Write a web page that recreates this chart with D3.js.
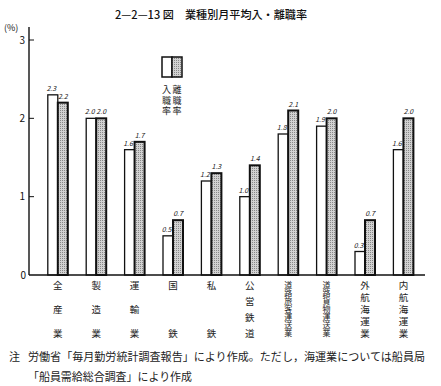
<!DOCTYPE html>
<html><head><meta charset="utf-8">
<script src="https://cdn.jsdelivr.net/npm/d3@7/dist/d3.min.js"></script>
<style>body{margin:0;background:#fff}svg{display:block}</style>
</head><body>
<script>
const categories = ["全産業","製造業","運輸業","国鉄","私鉄","公営鉄道","道路旅客運送業","道路貨物運送業","外航海運業","内航海運業"];
const hireRate = [2.3,2.0,1.6,0.5,1.2,1.0,1.8,1.9,0.3,1.6];
const sepRate  = [2.2,2.0,1.7,0.7,1.3,1.4,2.1,2.0,0.7,2.0];
const yTicks = [0,1,2,3];
const legendLabels = ["入職率","離職率"];
const title = "2—2—13 図　業種別月平均入・離職率";
const note1 = "労働省「毎月勤労統計調査報告」により作成。ただし，海運業については船員局";
const note2 = "「船員需給総合調査」により作成";

const W=441,H=386;
const font = "'Noto Sans CJK JP','Noto Sans',sans-serif";
const svg = d3.select("body").append("svg").attr("width",W).attr("height",H).style("font-family",font);

const defs = svg.append("defs");
const pat = defs.append("pattern").attr("id","dots").attr("width",2).attr("height",2).attr("patternUnits","userSpaceOnUse");
pat.append("rect").attr("width",2).attr("height",2).attr("fill","#d2d2d2");
pat.append("rect").attr("width",1).attr("height",1).attr("fill","#888");

const x = d3.scaleBand().domain(categories).range([38.6,422.6]);
const y = d3.scaleLinear().domain([0,3]).range([275,40]);
const bw = 10;

// title
svg.append("text").attr("x",115).attr("y",19).attr("font-size",11).attr("font-weight",500).attr("textLength",192)
  .attr("lengthAdjust","spacingAndGlyphs").attr("fill","#111").text(title);

// y axis
svg.append("line").attr("x1",29).attr("x2",29).attr("y1",27).attr("y2",y(0)).attr("stroke","#111").attr("stroke-width",1.4);
const yt = svg.append("g");
yTicks.forEach(t=>{
  if(t>0) yt.append("line").attr("x1",29).attr("x2",34).attr("y1",y(t)).attr("y2",y(t)).attr("stroke","#111").attr("stroke-width",1);
  yt.append("text").attr("x",t===0?26:25).attr("y",y(t)+3.5).attr("text-anchor","end").attr("font-size",10).attr("fill","#111").text(t);
});
svg.append("text").attr("x",4).attr("y",31).attr("font-size",9).attr("fill","#111").text("(%)");

// bars
const g = svg.append("g");
const gl = svg.append("g");
categories.forEach((c,i)=>{
  const cx = x(c)+x.bandwidth()/2;
  g.append("rect").attr("x",cx-bw).attr("y",y(hireRate[i])).attr("width",bw).attr("height",y(0)-y(hireRate[i]))
    .attr("fill","#fff").attr("stroke","#111").attr("stroke-width",1.3);
  g.append("rect").attr("x",cx).attr("y",y(sepRate[i])).attr("width",bw).attr("height",y(0)-y(sepRate[i]))
    .attr("fill","url(#dots)").attr("stroke","#111").attr("stroke-width",2);
  gl.append("text").attr("x",cx-bw/2-1.5).attr("y",y(hireRate[i])-4).attr("text-anchor","middle").attr("font-size",7)
    .attr("font-style","italic").attr("fill","#222").text(hireRate[i].toFixed(1));
  gl.append("text").attr("x",cx+bw/2).attr("y",y(sepRate[i])-4).attr("text-anchor","middle").attr("font-size",7)
    .attr("font-style","italic").attr("fill","#222").text(sepRate[i].toFixed(1));
  // vertical category label: one vertical text, characters spread from top to bottom
  const n = Array.from(c).length, top=285, bot=333;
  const sp = (bot-top)/(n-1);
  const fs = Math.min(9.5, sp);
  gl.append("text").attr("x",cx).attr("y",top-fs/2)
    .style("writing-mode","vertical-rl").style("letter-spacing",(sp-fs)+"px")
    .attr("font-size",fs).attr("fill","#222").text(c);
});

// x axis
svg.append("line").attr("x1",29).attr("x2",425).attr("y1",y(0)).attr("y2",y(0)).attr("stroke","#111").attr("stroke-width",1.6);

// legend
svg.append("rect").attr("x",162).attr("y",57).attr("width",10).attr("height",20).attr("fill","#fff").attr("stroke","#111").attr("stroke-width",1.5);
svg.append("rect").attr("x",172).attr("y",57).attr("width",10).attr("height",20).attr("fill","url(#dots)").attr("stroke","#111").attr("stroke-width",1.5);
legendLabels.forEach((lab,j)=>{
  svg.append("text").attr("x",166.5+j*10.5).attr("y",85.5)
    .style("writing-mode","vertical-rl").style("letter-spacing","1.5px")
    .attr("font-size",9).attr("fill","#222").text(lab);
});

// notes
svg.append("text").attr("x",9).attr("y",361).attr("font-size",11).attr("fill","#222").text("注");
svg.append("text").attr("x",28).attr("y",361).attr("font-size",11).attr("fill","#222")
  .attr("textLength",397).attr("lengthAdjust","spacingAndGlyphs").text(note1);
svg.append("text").attr("x",28).attr("y",381).attr("font-size",11).attr("fill","#222")
  .attr("textLength",164).attr("lengthAdjust","spacingAndGlyphs").text(note2);
</script>
</body></html>
